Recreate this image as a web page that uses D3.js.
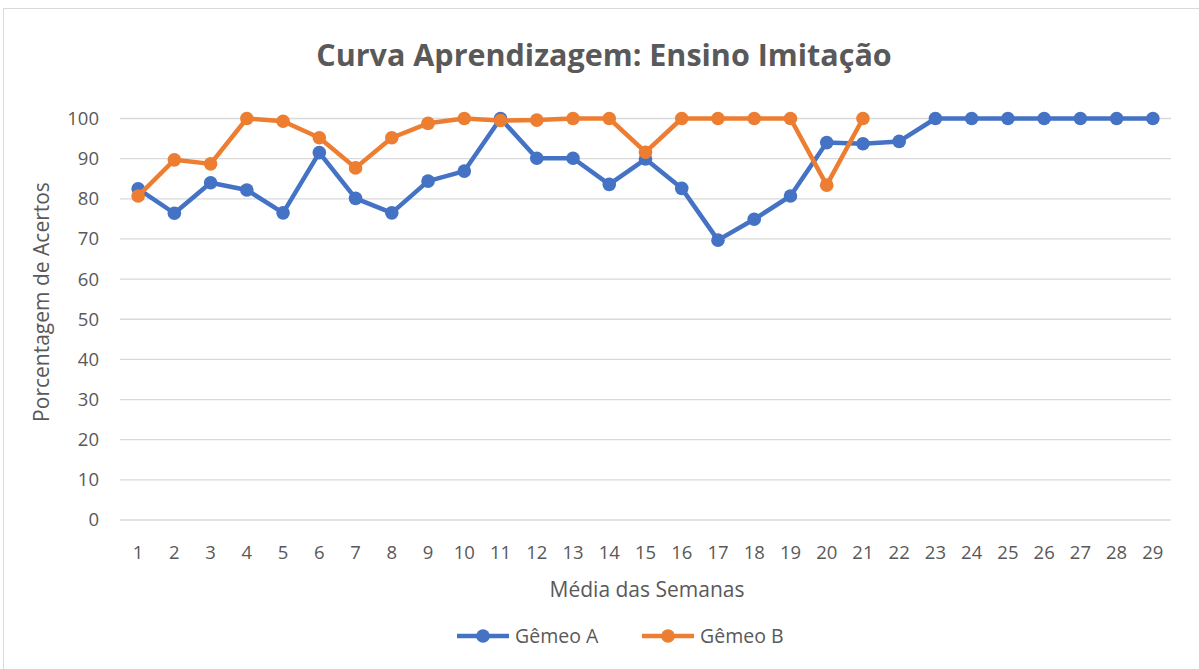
<!DOCTYPE html>
<html>
<head>
<meta charset="utf-8">
<script src="https://cdn.jsdelivr.net/npm/d3@7"></script>
<style>
  body { margin: 0; background: #fff; }
  svg { display: block; }
</style>
</head>
<body>
<script>
// semanas 1..29
const semanas = d3.range(1, 30);
const gemeoA = [82.5, 76.4, 84, 82.2, 76.5, 91.5, 80.1, 76.5, 84.4, 86.9, 100, 90.1, 90.1, 83.6, 89.9, 82.6, 69.7, 74.9, 80.7, 94, 93.7, 94.3, 100, 100, 100, 100, 100, 100, 100];
const gemeoB = [80.7, 89.7, 88.7, 100, 99.3, 95.2, 87.7, 95.2, 98.8, 100, 99.5, 99.6, 100, 100, 91.6, 100, 100, 100, 100, 83.4, 100];
const yTicks = [0, 10, 20, 30, 40, 50, 60, 70, 80, 90, 100];

const width = 1199, height = 669;
const font = "'Open Sans', 'Noto Sans', sans-serif";
const textColor = "#595959";

const svg = d3.select("body").append("svg")
    .attr("width", width)
    .attr("height", height);

// chart frame (runs off the right/bottom edges)
svg.append("rect")
    .attr("x", 3.5).attr("y", 8.5)
    .attr("width", 1220).attr("height", 680)
    .attr("fill", "#fff")
    .attr("stroke", "#d9d9d9");

const x = d3.scaleBand()
    .domain(semanas)
    .range([120, 1171]);

const y = d3.scaleLinear()
    .domain([0, 100])
    .range([520, 118.5]);

// grid
svg.append("g")
    .selectAll("line")
    .data(yTicks)
    .join("line")
    .attr("x1", 120).attr("x2", 1171)
    .attr("y1", d => y(d)).attr("y2", d => y(d))
    .attr("stroke", "#d9d9d9")
    .attr("stroke-width", 1.3);

// y tick labels
svg.append("g")
    .selectAll("text")
    .data(yTicks)
    .join("text")
    .attr("x", 99)
    .attr("y", d => y(d))
    .attr("dy", "0.35em")
    .attr("text-anchor", "end")
    .attr("font-family", font)
    .attr("font-size", 18.5)
    .attr("fill", textColor)
    .text(d => d);

// x tick labels
svg.append("g")
    .selectAll("text")
    .data(semanas)
    .join("text")
    .attr("x", d => x(d) + x.bandwidth() / 2)
    .attr("y", 553)
    .attr("dy", "0.35em")
    .attr("text-anchor", "middle")
    .attr("font-family", font)
    .attr("font-size", 18.5)
    .attr("fill", textColor)
    .text(d => d);

// titles
svg.append("text")
    .attr("x", 604).attr("y", 55)
    .attr("dy", "0.35em")
    .attr("text-anchor", "middle")
    .attr("font-family", font)
    .attr("font-weight", "bold")
    .attr("font-size", 30.5)
    .attr("fill", textColor)
    .text("Curva Aprendizagem: Ensino Imitação");

svg.append("text")
    .attr("x", 647).attr("y", 590)
    .attr("dy", "0.35em")
    .attr("text-anchor", "middle")
    .attr("font-family", font)
    .attr("font-size", 21)
    .attr("fill", textColor)
    .text("Média das Semanas");

svg.append("text")
    .attr("transform", "translate(42,302) rotate(-90)")
    .attr("dy", "0.35em")
    .attr("text-anchor", "middle")
    .attr("font-family", font)
    .attr("font-size", 21)
    .attr("fill", textColor)
    .text("Porcentagem de Acertos");

const series = [
    { name: "Gêmeo A", color: "#4472c4", values: gemeoA, lx: 457 },
    { name: "Gêmeo B", color: "#ed7d31", values: gemeoB, lx: 642 }
];

const line = d3.line()
    .x((d, i) => x(semanas[i]) + x.bandwidth() / 2)
    .y(d => y(d));

series.forEach(s => {
    const g = svg.append("g");
    g.append("path")
        .datum(s.values)
        .attr("d", line)
        .attr("fill", "none")
        .attr("stroke", s.color)
        .attr("stroke-width", 4.5)
        .attr("stroke-linejoin", "round");
    g.selectAll("circle")
        .data(s.values)
        .join("circle")
        .attr("cx", (d, i) => x(semanas[i]) + x.bandwidth() / 2)
        .attr("cy", d => y(d))
        .attr("r", 6.8)
        .attr("fill", s.color);

    // legend
    const lg = svg.append("g");
    lg.append("line")
        .attr("x1", s.lx).attr("x2", s.lx + 52)
        .attr("y1", 636).attr("y2", 636)
        .attr("stroke", s.color)
        .attr("stroke-width", 4.5);
    lg.append("circle")
        .attr("cx", s.lx + 26).attr("cy", 636)
        .attr("r", 6.8)
        .attr("fill", s.color);
    lg.append("text")
        .attr("x", s.lx + 58).attr("y", 636)
        .attr("dy", "0.35em")
        .attr("font-family", font)
        .attr("font-size", 19.5)
        .attr("fill", textColor)
        .text(s.name);
});
</script>
</body>
</html>
